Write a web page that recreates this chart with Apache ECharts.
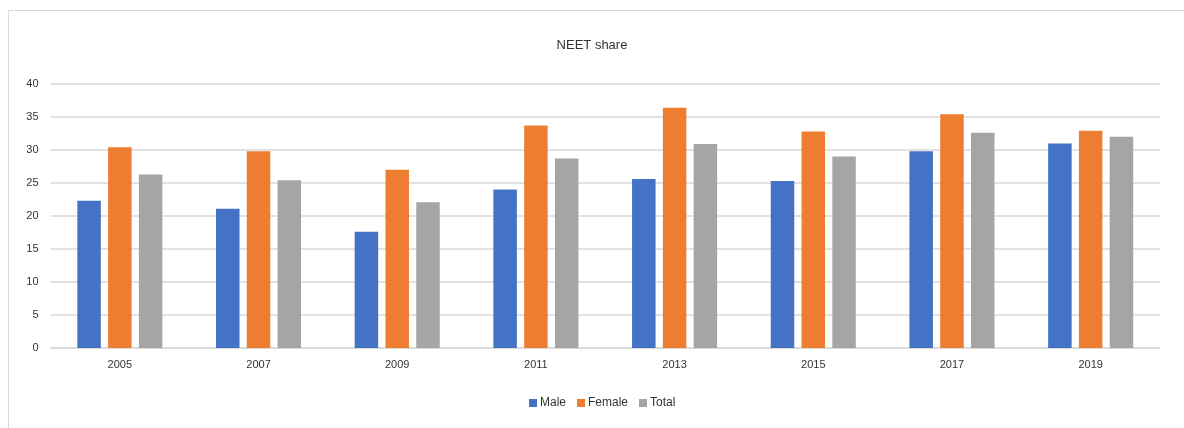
<!DOCTYPE html>
<html><head><meta charset="utf-8">
<script src="https://cdn.jsdelivr.net/npm/echarts@6/dist/echarts.min.js"></script>
<style>
html,body{margin:0;padding:0;background:#fff;}
#frame{position:absolute;left:8px;top:10px;width:1200px;height:440px;border:1px solid #D9D9D9;box-sizing:border-box;}
#c{position:absolute;left:0;top:0;width:1184px;height:428px;}
</style></head>
<body>
<div id="frame"></div>
<div id="c"></div>
<script>
const categories = ['2005','2007','2009','2011','2013','2015','2017','2019'];
const male   = [22.3, 21.1, 17.6, 24.0, 25.6, 25.3, 29.8, 31.0];
const female = [30.4, 29.8, 27.0, 33.7, 36.4, 32.8, 35.4, 32.9];
const total  = [26.3, 25.4, 22.1, 28.7, 30.9, 29.0, 32.6, 32.0];
const seriesNames = ['Male','Female','Total'];
const colors = ['#4472C4','#ED7D31','#A5A5A5'];

const font = 'Liberation Sans, Arial, sans-serif';
const chart = echarts.init(document.getElementById('c'));
const values = [male, female, total];
chart.setOption({
  animation:false,
  title:{text:'NEET share',left:'center',top:34,textStyle:{fontFamily:font,fontSize:13,fontWeight:'normal',color:'#333'}},
  legend:{bottom:14,left:524,itemWidth:8,itemHeight:8,itemGap:11,icon:'rect',
    textStyle:{fontFamily:font,fontSize:12,color:'#333',padding:[0,0,0,-2]},data:seriesNames},
  grid:{left:50.5,right:24,top:84,bottom:80},
  xAxis:{type:'category',data:categories,
    axisLine:{lineStyle:{color:'#D9D9D9',width:1.5}},axisTick:{show:false},
    axisLabel:{fontFamily:font,fontSize:11,color:'#333',margin:11}},
  yAxis:{type:'value',min:0,max:40,interval:5,
    axisLine:{show:false},axisTick:{show:false},
    splitLine:{lineStyle:{color:'#D9D9D9',width:1.5}},
    axisLabel:{fontFamily:font,fontSize:11,color:'#333',margin:12}},
  series: seriesNames.map((n,i)=>({name:n,type:'bar',data:values[i],barWidth:23.5,barGap:'31%',
    itemStyle:{color:colors[i]}}))
});
</script>
</body></html>
